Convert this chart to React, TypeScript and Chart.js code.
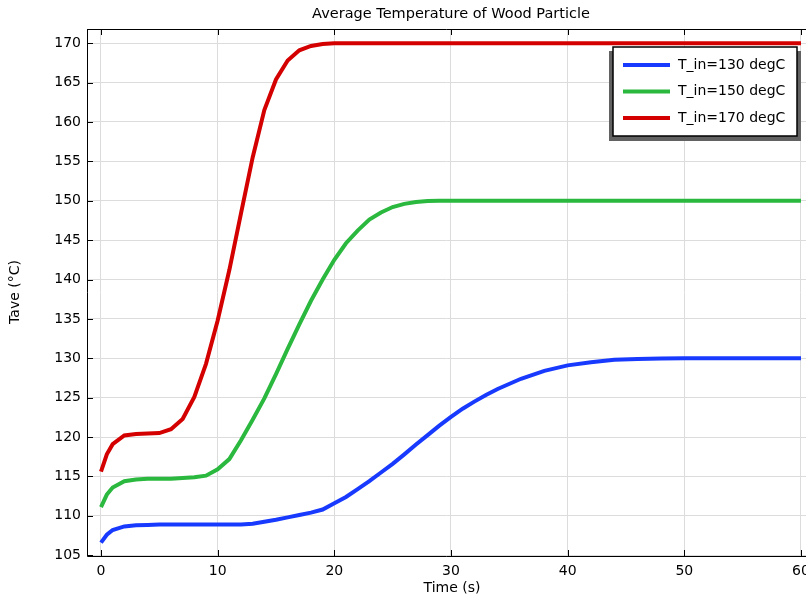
import React, { useEffect, useRef } from "react";
import { Chart, registerables } from "chart.js";

Chart.register(...registerables);

const titleText = "Average Temperature of Wood Particle";
const xAxisTitle = "Time (s)";
const yAxisTitle = "Tave (°C)";

const time = [
  0, 0.5, 1, 2, 3, 4, 5, 6, 7, 8, 9, 10, 11, 12, 13, 14, 15, 16, 17, 18, 19, 20,
  21, 22, 23, 24, 25, 26, 27, 28, 29, 30, 31, 32, 33, 34, 36, 38, 40, 42, 44, 46, 48, 50, 55, 60,
];

const tin130 = [
  106.6, 107.6, 108.2, 108.65, 108.8, 108.85, 108.9, 108.9, 108.9, 108.9, 108.9, 108.9,
  108.9, 108.9, 109.0, 109.25, 109.5, 109.8, 110.1, 110.4, 110.8, 111.6,
  112.4, 113.4, 114.4, 115.5, 116.6, 117.8, 119.05, 120.25, 121.45, 122.55,
  123.6, 124.5, 125.35, 126.1, 127.4, 128.4, 129.1, 129.5, 129.8, 129.9, 129.97, 130, 130, 130,
];

const tin150 = [
  111.1, 112.7, 113.6, 114.4, 114.6, 114.7, 114.7, 114.7, 114.8, 114.9, 115.1, 115.9,
  117.2, 119.6, 122.2, 124.9, 128.0, 131.2, 134.3, 137.3, 140.0, 142.5,
  144.6, 146.2, 147.6, 148.5, 149.2, 149.6, 149.85, 149.95, 150, 150,
  150, 150, 150, 150, 150, 150, 150, 150, 150, 150, 150, 150, 150, 150,
];

const tin170 = [
  115.6, 117.8, 119.1, 120.2, 120.4, 120.45, 120.5, 121.0, 122.3, 125.1, 129.3, 134.8,
  141.2, 148.4, 155.5, 161.5, 165.4, 167.8, 169.1, 169.65, 169.9, 170,
  170, 170, 170, 170, 170, 170, 170, 170, 170, 170,
  170, 170, 170, 170, 170, 170, 170, 170, 170, 170, 170, 170, 170, 170,
];

const seriesLabels = ["T_in=130 degC", "T_in=150 degC", "T_in=170 degC"];
const seriesColors = ["rgb(24,58,255)", "rgb(42,184,62)", "rgb(212,0,0)"];

const xTicks = [0, 10, 20, 30, 40, 50, 60];
const yTicks = [105, 110, 115, 120, 125, 130, 135, 140, 145, 150, 155, 160, 165, 170];

const FONT = "'DejaVu Sans', sans-serif";

const decorPlugin = {
  id: "decor",
  afterDraw(chart: any) {
    const ctx = chart.ctx as CanvasRenderingContext2D;
    const area = chart.chartArea;
    const xs = chart.scales.x;
    const ys = chart.scales.y;
    ctx.save();
    // frame
    ctx.strokeStyle = "#000";
    ctx.lineWidth = 1;
    ctx.beginPath();
    ctx.moveTo(area.left + 0.5, area.top + 0.5);
    ctx.lineTo(area.right, area.top + 0.5);
    ctx.moveTo(area.left + 0.5, area.top);
    ctx.lineTo(area.left + 0.5, area.bottom + 0.5);
    ctx.lineTo(area.right, area.bottom + 0.5);
    ctx.stroke();
    // inward ticks
    ctx.beginPath();
    for (const v of xTicks) {
      const px = Math.round(xs.getPixelForValue(v)) + 0.5;
      ctx.moveTo(px, area.bottom);
      ctx.lineTo(px, area.bottom - 6);
      ctx.moveTo(px, area.top);
      ctx.lineTo(px, area.top + 6);
    }
    for (const v of yTicks) {
      const py = Math.round(ys.getPixelForValue(v)) + 0.5;
      ctx.moveTo(area.left, py);
      ctx.lineTo(area.left + 6, py);
    }
    ctx.stroke();

    // title
    ctx.fillStyle = "#000";
    ctx.font = `14.5px ${FONT}`;
    ctx.textAlign = "center";
    ctx.textBaseline = "middle";
    ctx.fillText(titleText, 451, 14);
    // axis titles
    ctx.font = `14px ${FONT}`;
    ctx.fillText(xAxisTitle, 452, 588);
    ctx.save();
    ctx.translate(15, 292);
    ctx.rotate(-Math.PI / 2);
    ctx.fillText(yAxisTitle, 0, 0);
    ctx.restore();

    // legend
    const bx = 613, by = 47, bw = 184, bh = 89;
    ctx.fillStyle = "#626262";
    ctx.fillRect(bx - 4, by + 4, bw + 8, bh + 1);
    ctx.fillStyle = "#fff";
    ctx.fillRect(bx, by, bw, bh);
    ctx.strokeStyle = "#000";
    ctx.lineWidth = 1.5;
    ctx.strokeRect(bx, by, bw, bh);
    ctx.font = `14px ${FONT}`;
    ctx.textAlign = "left";
    ctx.textBaseline = "middle";
    const rows = [65, 91.5, 118];
    chart.data.datasets.forEach((ds: any, i: number) => {
      ctx.strokeStyle = ds.borderColor;
      ctx.lineWidth = 4;
      ctx.beginPath();
      ctx.moveTo(623, rows[i]);
      ctx.lineTo(670, rows[i]);
      ctx.stroke();
      ctx.fillStyle = "#000";
      ctx.fillText(ds.label, 678, rows[i]);
    });
    ctx.restore();
  },
};

export default function App() {
  const ref = useRef<HTMLCanvasElement | null>(null);
  useEffect(() => {
    document.body.style.margin = "0";
    if (!ref.current) return;
    const mk = (vals: number[]) => time.map((t, i) => ({ x: t, y: vals[i] }));
    const chart = new Chart(ref.current, {
      type: "line",
      data: {
        datasets: [tin130, tin150, tin170].map((vals, i) => ({
          label: seriesLabels[i],
          data: mk(vals),
          borderColor: seriesColors[i],
          backgroundColor: seriesColors[i],
          borderWidth: 4,
          pointRadius: 0,
          tension: 0,
          fill: false,
        })),
      },
      options: {
        animation: false,
        responsive: false,
        layout: { padding: { top: 29, left: 0, right: 0, bottom: 0 } },
        plugins: {
          legend: { display: false },
          title: { display: false },
          tooltip: { enabled: false },
        },
        scales: {
          x: {
            type: "linear",
            min: -1.2,
            max: 60.43,
            afterBuildTicks: (s: any) => {
              s.ticks = xTicks.map((v) => ({ value: v }));
            },
            afterFit: (s: any) => {
              s.height = 42;
              s.paddingLeft = 0;
              s.paddingRight = 0;
            },
            border: { display: false },
            grid: { color: "#dcdcdc", lineWidth: 1, drawTicks: false },
            ticks: {
              color: "#000",
              font: { family: FONT, size: 14 },
              padding: 7,
              maxRotation: 0,
              autoSkip: false,
            },
          },
          y: {
            type: "linear",
            min: 104.9,
            max: 171.8,
            afterBuildTicks: (s: any) => {
              s.ticks = yTicks.map((v) => ({ value: v }));
            },
            afterFit: (s: any) => {
              s.width = 87;
              s.paddingTop = 0;
              s.paddingBottom = 0;
            },
            border: { display: false },
            grid: { color: "#dcdcdc", lineWidth: 1, drawTicks: false },
            ticks: {
              color: "#000",
              font: { family: FONT, size: 14 },
              padding: 6,
              autoSkip: false,
            },
          },
        },
      },
      plugins: [decorPlugin],
    });
    return () => chart.destroy();
  }, []);
  return (
    <div style={{ position: "absolute", left: 0, top: 0, width: 806, height: 598 }}>
      <canvas ref={ref} width={806} height={598} style={{ display: "block" }} />
    </div>
  );
}
